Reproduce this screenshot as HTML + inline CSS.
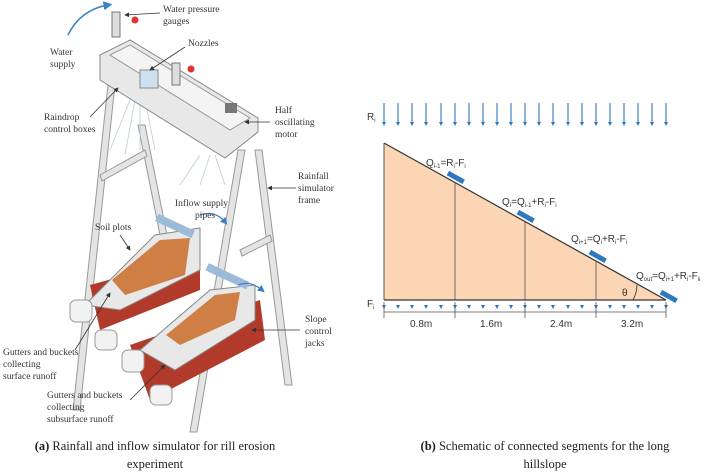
<!DOCTYPE html>
<html><head><style>
body{margin:0;background:#fff}
svg{display:block}
.s{font-family:"Liberation Serif",serif;font-size:9.5px;fill:#333}
.n{font-family:"Liberation Sans",sans-serif;font-size:10px;fill:#333}
.c{font-family:"Liberation Serif",serif;font-size:12.5px;fill:#222}
</style></head><body>
<svg width="720" height="475" viewBox="0 0 720 475" xmlns="http://www.w3.org/2000/svg">
<defs>
<marker id="ah" markerWidth="6" markerHeight="6" refX="3" refY="3" orient="auto"><path d="M0,0L6,3L0,6z" fill="#3a7fc1"/></marker>
<marker id="ak" markerWidth="6" markerHeight="6" refX="5" refY="3" orient="auto"><path d="M0,0L6,3L0,6z" fill="#333"/></marker>
</defs>
<g stroke="#999" stroke-width="1" fill="#e4e4e4">
<polygon points="108,85 115,85 80,410 73,410"/>
<polygon points="138,125 145,125 170,250 163,250"/>
<polygon points="238,150 245,150 197,432 190,432"/>
<polygon points="255,150 262,150 292,385 285,385"/>
<polygon points="100,175 145,150 147,156 102,181"/>
<polygon points="240,250 270,235 272,241 242,256"/>
</g>
<g stroke="#bcd" stroke-width="0.8">
<line x1="130" y1="100" x2="110" y2="150"/><line x1="135" y1="100" x2="125" y2="155"/><line x1="140" y1="100" x2="140" y2="150"/>
<line x1="145" y1="100" x2="155" y2="150"/><line x1="200" y1="155" x2="180" y2="185"/><line x1="210" y1="155" x2="200" y2="185"/><line x1="215" y1="155" x2="225" y2="185"/>
</g>
<polygon points="100,55 130,40 258,118 258,132 225,158 100,80" fill="#e8e8e8" stroke="#888"/>
<polygon points="110,55 130,45 250,118 230,130" fill="#f4f4f4" stroke="#999"/>
<rect x="112" y="12" width="8" height="25" fill="#ddd" stroke="#777"/>
<rect x="172" y="63" width="8" height="22" fill="#ddd" stroke="#777"/>
<circle cx="135" cy="20" r="3.5" fill="#d33"/><circle cx="191" cy="69" r="3.5" fill="#d33"/>
<rect x="140" y="70" width="18" height="18" fill="#cfe0f0" stroke="#888"/>
<rect x="225" y="103" width="12" height="10" fill="#777"/>
<path d="M68,35 Q80,10 108,5" fill="none" stroke="#3a7fc1" stroke-width="1.5" marker-end="url(#ah)"/>
<polygon points="90,285 200,255 200,290 100,330" fill="#b23a2a"/>
<polygon points="130,345 260,300 265,340 150,400" fill="#b23a2a"/>
<polygon points="85,305 155,235 200,228 200,270 120,310" fill="#e8e8e8" stroke="#888"/>
<polygon points="112,280 160,240 190,238 185,275 125,295" fill="#cf7f45"/>
<polygon points="140,350 210,290 255,285 255,320 175,370" fill="#e8e8e8" stroke="#888"/>
<polygon points="166,335 215,295 240,292 235,320 180,345" fill="#cf7f45"/>
<rect x="155" y="222" width="40" height="8" fill="#9bbbd8" transform="rotate(25 175 226)"/>
<rect x="205" y="272" width="45" height="8" fill="#9bbbd8" transform="rotate(25 227 276)"/>
<g fill="#f2f2f2" stroke="#999">
<rect x="70" y="300" width="22" height="22" rx="6"/><rect x="95" y="330" width="22" height="20" rx="6"/>
<rect x="122" y="350" width="22" height="22" rx="6"/><rect x="150" y="385" width="22" height="20" rx="6"/>
</g>
<path d="M200,215 Q215,210 225,222" fill="none" stroke="#3a7fc1" stroke-width="1.2" marker-end="url(#ah)"/>
<path d="M238,285 Q250,280 262,290" fill="none" stroke="#3a7fc1" stroke-width="1.2" marker-end="url(#ah)"/>
<g stroke="#333" stroke-width="0.8" fill="none" marker-end="url(#ak)">
<line x1="160" y1="13" x2="125" y2="15"/><line x1="185" y1="47" x2="150" y2="70"/>
<line x1="90" y1="117" x2="118" y2="88"/><line x1="270" y1="122" x2="245" y2="122"/>
<line x1="296" y1="188" x2="268" y2="188"/><line x1="120" y1="235" x2="130" y2="250"/>
<line x1="300" y1="330" x2="252" y2="330"/><line x1="75" y1="350" x2="110" y2="293"/>
<line x1="130" y1="400" x2="165" y2="365"/>
</g>
<g class="s">
<text x="163" y="12">Water pressure</text><text x="163" y="24">gauges</text>
<text x="50" y="55">Water</text><text x="50" y="67">supply</text>
<text x="188" y="46">Nozzles</text>
<text x="44" y="120">Raindrop</text><text x="44" y="132">control boxes</text>
<text x="275" y="113">Half</text><text x="275" y="125">oscillating</text><text x="275" y="137">motor</text>
<text x="298" y="179">Rainfall</text><text x="298" y="191">simulator</text><text x="298" y="203">frame</text>
<text x="175" y="206">Inflow supply</text><text x="195" y="218">pipes</text>
<text x="95" y="230">Soil plots</text>
<text x="305" y="322">Slope</text><text x="305" y="334">control</text><text x="305" y="346">jacks</text>
<text x="3" y="355">Gutters and buckets</text><text x="3" y="367">collecting</text><text x="3" y="379">surface runoff</text>
<text x="47" y="398">Gutters and buckets</text><text x="47" y="410">collecting</text><text x="47" y="422">subsurface runoff</text>
</g>
<text class="c" x="155" y="450" text-anchor="middle"><tspan font-weight="bold">(a)</tspan> Rainfall and inflow simulator for rill erosion</text>
<text class="c" x="155" y="468" text-anchor="middle">experiment</text>
<polygon points="384,143 384,300 666,300" fill="#fbd5b4"/>
<line x1="384" y1="143" x2="666" y2="300" stroke="#333" stroke-width="1.2"/>
<line x1="384" y1="143" x2="384" y2="300" stroke="#555"/>
<line x1="384" y1="300" x2="666" y2="300" stroke="#333" stroke-width="1.2"/>
<g stroke="#555" stroke-width="0.8"><line x1="455" y1="183" x2="455" y2="300"/><line x1="525" y1="222" x2="525" y2="300"/><line x1="596" y1="261" x2="596" y2="300"/></g>
<g stroke="#2f78c0" stroke-width="1.1">
<line x1="384" y1="103" x2="384" y2="123"/><line x1="398" y1="103" x2="398" y2="123"/><line x1="412" y1="103" x2="412" y2="123"/><line x1="426" y1="103" x2="426" y2="123"/><line x1="441" y1="103" x2="441" y2="123"/><line x1="455" y1="103" x2="455" y2="123"/><line x1="469" y1="103" x2="469" y2="123"/><line x1="483" y1="103" x2="483" y2="123"/><line x1="497" y1="103" x2="497" y2="123"/><line x1="511" y1="103" x2="511" y2="123"/><line x1="525" y1="103" x2="525" y2="123"/><line x1="539" y1="103" x2="539" y2="123"/><line x1="553" y1="103" x2="553" y2="123"/><line x1="568" y1="103" x2="568" y2="123"/><line x1="582" y1="103" x2="582" y2="123"/><line x1="596" y1="103" x2="596" y2="123"/><line x1="610" y1="103" x2="610" y2="123"/><line x1="624" y1="103" x2="624" y2="123"/><line x1="638" y1="103" x2="638" y2="123"/><line x1="652" y1="103" x2="652" y2="123"/><line x1="666" y1="103" x2="666" y2="123"/>
</g>
<g fill="#2f78c0">
<path d="M382,122h4l-2,4z M396,122h4l-2,4z M410,122h4l-2,4z M424,122h4l-2,4z M439,122h4l-2,4z M453,122h4l-2,4z M467,122h4l-2,4z M481,122h4l-2,4z M495,122h4l-2,4z M509,122h4l-2,4z M523,122h4l-2,4z M537,122h4l-2,4z M551,122h4l-2,4z M566,122h4l-2,4z M580,122h4l-2,4z M594,122h4l-2,4z M608,122h4l-2,4z M622,122h4l-2,4z M636,122h4l-2,4z M650,122h4l-2,4z M664,122h4l-2,4z"/>
<path d="M382,305h4l-2,4z M396,305h4l-2,4z M410,305h4l-2,4z M424,305h4l-2,4z M439,305h4l-2,4z M453,305h4l-2,4z M467,305h4l-2,4z M481,305h4l-2,4z M495,305h4l-2,4z M509,305h4l-2,4z M523,305h4l-2,4z M537,305h4l-2,4z M551,305h4l-2,4z M566,305h4l-2,4z M580,305h4l-2,4z M594,305h4l-2,4z M608,305h4l-2,4z M622,305h4l-2,4z M636,305h4l-2,4z M650,305h4l-2,4z M664,305h4l-2,4z"/>
<rect x="447" y="175" width="18" height="5" transform="rotate(29 456 177)"/>
<rect x="517" y="214" width="18" height="5" transform="rotate(29 526 216)"/>
<rect x="589" y="254" width="18" height="5" transform="rotate(29 598 256)"/>
<rect x="660" y="294" width="18" height="5" transform="rotate(29 669 296)"/>
</g>
<g stroke="#555" stroke-width="0.8"><line x1="384" y1="312" x2="666" y2="312"/>
<line x1="384" y1="302" x2="384" y2="318"/><line x1="455" y1="302" x2="455" y2="318"/><line x1="525" y1="302" x2="525" y2="318"/><line x1="596" y1="302" x2="596" y2="318"/><line x1="666" y1="302" x2="666" y2="318"/></g>
<path d="M633,300 A33,33 0 0 0 637,285" fill="none" stroke="#333" stroke-width="0.8"/>
<g class="n">
<text x="367" y="120">R<tspan font-size="6" dy="2">i</tspan></text>
<text x="367" y="307">F<tspan font-size="6" dy="2">i</tspan></text>
<text x="426" y="166">Q<tspan font-size="6" dy="2">i-1</tspan><tspan dy="-2">=R</tspan><tspan font-size="6" dy="2">i</tspan><tspan dy="-2">-F</tspan><tspan font-size="6" dy="2">i</tspan></text>
<text x="502" y="205">Q<tspan font-size="6" dy="2">i</tspan><tspan dy="-2">=Q</tspan><tspan font-size="6" dy="2">i-1</tspan><tspan dy="-2">+R</tspan><tspan font-size="6" dy="2">i</tspan><tspan dy="-2">-F</tspan><tspan font-size="6" dy="2">i</tspan></text>
<text x="571" y="242">Q<tspan font-size="6" dy="2">i+1</tspan><tspan dy="-2">=Q</tspan><tspan font-size="6" dy="2">i</tspan><tspan dy="-2">+R</tspan><tspan font-size="6" dy="2">i</tspan><tspan dy="-2">-F</tspan><tspan font-size="6" dy="2">i</tspan></text>
<text x="636" y="279">Q<tspan font-size="6" dy="2">out</tspan><tspan dy="-2">=Q</tspan><tspan font-size="6" dy="2">i+1</tspan><tspan dy="-2">+R</tspan><tspan font-size="6" dy="2">i</tspan><tspan dy="-2">-F</tspan><tspan font-size="6" dy="2">ii</tspan></text>
<text x="622" y="296">θ</text>
<text x="410" y="327">0.8m</text><text x="480" y="327">1.6m</text><text x="550" y="327">2.4m</text><text x="621" y="327">3.2m</text>
</g>
<text class="c" x="545" y="450" text-anchor="middle"><tspan font-weight="bold">(b)</tspan> Schematic of connected segments for the long</text>
<text class="c" x="545" y="468" text-anchor="middle">hillslope</text>
</svg>
</body></html>
